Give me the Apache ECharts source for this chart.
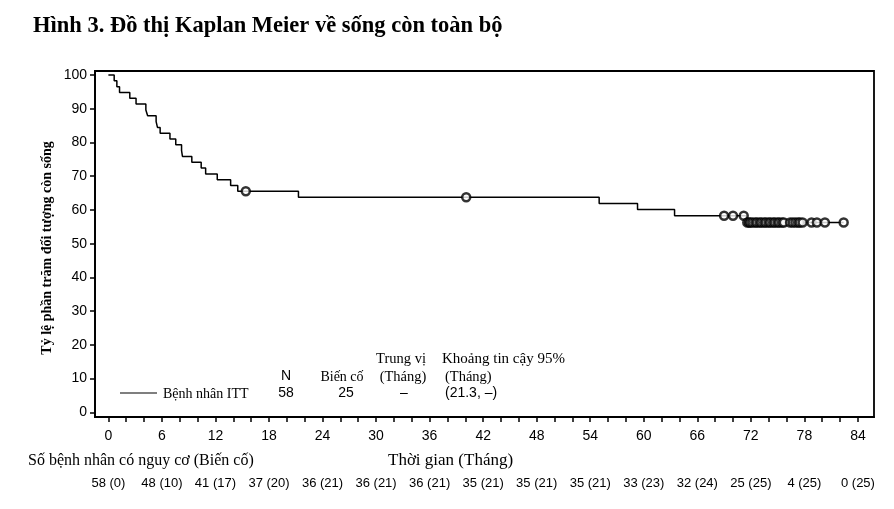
<!DOCTYPE html>
<html>
<head>
<meta charset="utf-8">
<script src="https://cdn.jsdelivr.net/npm/echarts@6/dist/echarts.min.js"></script>
<style>
html, body { margin: 0; padding: 0; background: #fff; }
#chart { width: 894px; height: 509px; }
</style>
</head>
<body>
<div id="chart"></div>
<script>
// axis ticks
const monthTicks = [0, 6, 12, 18, 24, 30, 36, 42, 48, 54, 60, 66, 72, 78, 84];
const percentTicks = [0, 10, 20, 30, 40, 50, 60, 70, 80, 90, 100];

// number at risk (events so far) under each month tick
const atRisk = [58, 48, 41, 37, 36, 36, 36, 35, 35, 35, 33, 32, 25, 4, 0];
const eventsSoFar = [0, 10, 17, 20, 21, 21, 21, 21, 21, 21, 23, 24, 25, 25, 25];

// Kaplan-Meier steps (month, % alive after the drop)
const stepTimes = [0, 0.65, 0.95, 1.25, 2.4, 3.1, 4.2, 4.4, 5.35, 5.5, 5.8, 6.9, 7.55, 8.2, 8.3,
  9.35, 10.4, 10.9, 12.2, 13.7, 14.5, 21.3, 55.0, 59.3, 63.45, 71.5, 82.4];
const stepSurvival = [100, 98.28, 96.55, 94.83, 93.10, 91.38, 89.66, 87.93, 86.21, 84.48, 82.76,
  81.03, 79.31, 77.59, 75.86, 74.14, 72.41, 70.69, 68.97, 67.24, 65.52, 63.75, 61.93, 60.11,
  58.29, 56.28, 56.28];

// censored patients
const censorTimes = [15.4, 40.1, 69.0, 70.0, 71.2, 71.6, 71.8, 71.95, 72.2, 72.5, 72.7, 73.0,
  73.2, 73.5, 73.7, 74.0, 74.2, 74.5, 74.7, 75.0, 75.2, 75.5, 75.7, 76.4, 76.7, 77.0, 77.3,
  77.5, 77.8, 78.8, 79.4, 80.3, 82.4];
const censorSurvival = [65.52, 63.75, 58.29, 58.29, 58.29, 56.28, 56.28, 56.28, 56.28, 56.28,
  56.28, 56.28, 56.28, 56.28, 56.28, 56.28, 56.28, 56.28, 56.28, 56.28, 56.28, 56.28, 56.28,
  56.28, 56.28, 56.28, 56.28, 56.28, 56.28, 56.28, 56.28, 56.28, 56.28];

const minorTicks = [];
for (let m = 0; m <= 84; m += 2) minorTicks.push(m);

const serif = '"Liberation Serif", "Times New Roman", serif';
const sans = '"Liberation Sans", Arial, sans-serif';

const txt = (text, x, y, align, family, size) => ({
  type: 'text',
  style: {
    text: text, x: x, y: y,
    font: (size || 14) + 'px ' + family,
    fill: '#000',
    align: align, verticalAlign: 'middle',
    textAlign: align, textVerticalAlign: 'middle'
  }
});

const chart = echarts.init(document.getElementById('chart'));
chart.setOption({
  animation: false,
  title: {
    text: 'Hình 3. Đồ thị Kaplan Meier về sống còn toàn bộ',
    left: 33,
    top: 15,
    padding: 0,
    textStyle: { fontFamily: serif, fontWeight: 'bold', fontSize: 22.5, color: '#000' }
  },
  grid: {
    left: 95, top: 71, right: 20, bottom: 92,
    show: true, borderColor: '#000', borderWidth: 1.8
  },
  xAxis: [
    {
      type: 'value', min: -1.5, max: 85.8,
      axisLine: { show: true, onZero: false, lineStyle: { color: '#000', width: 1.8 } },
      axisTick: { show: true, customValues: minorTicks, length: 5, lineStyle: { color: '#000', width: 1.5 } },
      axisLabel: { customValues: monthTicks, margin: 12, color: '#000', fontFamily: sans, fontSize: 14 },
      splitLine: { show: false }
    },
    {
      type: 'value', min: -1.5, max: 85.8, position: 'bottom',
      axisLine: { show: false },
      axisTick: { show: false },
      axisLabel: {
        customValues: monthTicks, margin: 60, color: '#000', fontFamily: sans, fontSize: 13,
        formatter: function (v) {
          const i = monthTicks.indexOf(v);
          return atRisk[i] + ' (' + eventsSoFar[i] + ')';
        }
      },
      splitLine: { show: false }
    }
  ],
  yAxis: {
    type: 'value', min: -1.4, max: 101.2,
    axisLine: { show: true, onZero: false, lineStyle: { color: '#000', width: 1.8 } },
    axisTick: { show: true, customValues: percentTicks, length: 5, lineStyle: { color: '#000', width: 1.5 } },
    axisLabel: { customValues: percentTicks, margin: 8, color: '#000', fontFamily: sans, fontSize: 14 },
    splitLine: { show: false }
  },
  graphic: [
    {
      type: 'text', x: 47, y: 248, rotation: Math.PI / 2,
      style: {
        text: 'Tỷ lệ phần trăm đối tượng còn sống',
        font: 'bold 14px ' + serif, fill: '#000',
        align: 'center', verticalAlign: 'middle', textAlign: 'center', textVerticalAlign: 'middle'
      }
    },
    { type: 'line', shape: { x1: 120, y1: 393, x2: 157, y2: 393 }, style: { stroke: '#000', lineWidth: 1.2 } },
    txt('Bệnh nhân ITT', 163, 394, 'left', serif),
    txt('N', 286, 376, 'center', sans),
    txt('58', 286, 393, 'center', sans),
    txt('Biến cố', 342, 377, 'center', serif),
    txt('25', 346, 393, 'center', sans),
    txt('Trung vị', 401, 359, 'center', serif, 14.5),
    txt('(Tháng)', 403, 377, 'center', serif, 14.5),
    txt('–', 404, 393, 'center', sans),
    txt('Khoảng tin cậy 95%', 442, 359, 'left', serif, 15),
    txt('(Tháng)', 445, 377, 'left', serif, 14.5),
    txt('(21.3, –)', 445, 393, 'left', sans),
    txt('Số bệnh nhân có nguy cơ (Biến cố)', 28, 461, 'left', serif, 16),
    txt('Thời gian (Tháng)', 388, 461, 'left', serif, 17)
  ],
  series: [
    {
      name: 'Bệnh nhân ITT',
      type: 'line',
      step: 'end',
      symbol: 'none',
      data: stepTimes.map((t, i) => [t, stepSurvival[i]]),
      lineStyle: { color: '#000', width: 1.5 },
      z: 2
    },
    {
      name: 'Kiểm duyệt',
      type: 'scatter',
      symbol: 'circle',
      symbolSize: 8,
      data: censorTimes.map((t, i) => [t, censorSurvival[i]]),
      itemStyle: { color: '#fff', borderColor: '#000', borderWidth: 2.5 },
      z: 3
    }
  ]
});
</script>
</body>
</html>
